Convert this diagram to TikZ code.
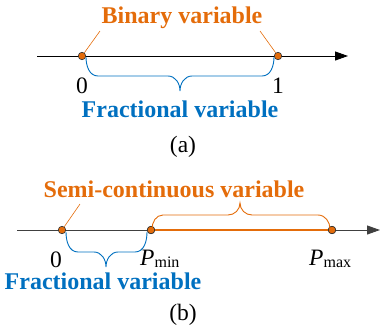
\documentclass[tikz,border=0pt]{standalone}
\usepackage{fontspec}
\setmainfont{Liberation Serif}
\usetikzlibrary{arrows.meta}
\definecolor{orng}{HTML}{E46C0A}
\definecolor{blu}{HTML}{0070C0}
\definecolor{axisgray}{HTML}{404040}
\begin{document}
\begin{tikzpicture}[x=1pt,y=-1pt,
  lbl/.style={inner sep=0pt,anchor=base,font=\fontsize{24}{24}\selectfont\bfseries,text height=16pt},
  num/.style={inner sep=0pt,anchor=base,font=\fontsize{23.5}{23.5}\selectfont},
  axisline/.style={line width=0.9pt,-{Triangle[length=13pt,width=9pt]}},
  dot/.style={circle,fill=orng,draw=black!80,line width=0.6pt,inner sep=0pt,minimum size=7.5pt},
  lead/.style={draw=orng,line width=0.6pt},
  brace/.style={line width=0.9pt}
]
\useasboundingbox (0,0) rectangle (380,335);
% ---------- (a) ----------
\coordinate (aL) at (37,56);
\coordinate (aR) at (348,56);
\draw[axisline,black] (aL) -- (aR);
\node[dot] (a0) at (82,56) {};
\node[dot] (a1) at (278,56) {};
\node[lbl,text=orng] (bin) at (182,23) {Binary variable};
\coordinate (binL) at (100,31);
\coordinate (binR) at (260,31);
\draw[lead] (binL) -- (a0);
\draw[lead] (binR) -- (a1);
\draw[brace,blu] (86,57) to[out=-90,in=180] (98,76) -- (168,76) to[out=0,in=90] (180,91)
  to[out=90,in=180] (192,76) -- (262,76) to[out=0,in=-90] (274,57);
\node[num] (lz) at (82,93) {0};
\node[num] (lo) at (278,93) {1};
\node[lbl,text=blu] (fra) at (180,117) {Fractional variable};
\node[num] (capa) at (183,152) {(a)};
% ---------- (b) ----------
\coordinate (bL) at (17,230);
\coordinate (bR) at (380,230);
\draw[axisline,axisgray] (bL) -- (bR);
\node[dot] (b0) at (62,230) {};
\node[dot] (bmin) at (151,230) {};
\node[dot] (bmax) at (332,230) {};
\draw[orng,line width=2.6pt] (bmin) -- (bmax);
\node[dot] at (bmin) {};
\node[dot] at (bmax) {};
\node[lbl,text=orng] (semi) at (174,197) {Semi-continuous variable};
\coordinate (semiL) at (80,204);
\draw[lead] (semiL) -- (b0);
\draw[brace,orng] (152,229) to[out=90,in=180] (163,215) -- (228,215) to[out=0,in=-90] (240,203)
  to[out=-90,in=180] (252,215) -- (318,215) to[out=0,in=90] (330,229);
\draw[brace,blu] (66,232) to[out=-90,in=180] (78,252) -- (94,252) to[out=0,in=90] (106,267)
  to[out=90,in=180] (118,252) -- (135,252) to[out=0,in=-90] (147,232);
\node[num] (bz) at (56,267) {0};
\node[num,anchor=base west,text depth=0pt] (pmin) at (140,265) {\textit{P}\raisebox{-2pt}{\fontsize{16}{16}\selectfont min}};
\node[num,anchor=base west,text depth=0pt] (pmax) at (309,265) {\textit{P}\raisebox{-2pt}{\fontsize{16}{16}\selectfont max}};
\node[lbl,text=blu] (frb) at (103,289) {Fractional variable};
\node[num] (capb) at (183,320) {(b)};
\end{tikzpicture}
\end{document}
